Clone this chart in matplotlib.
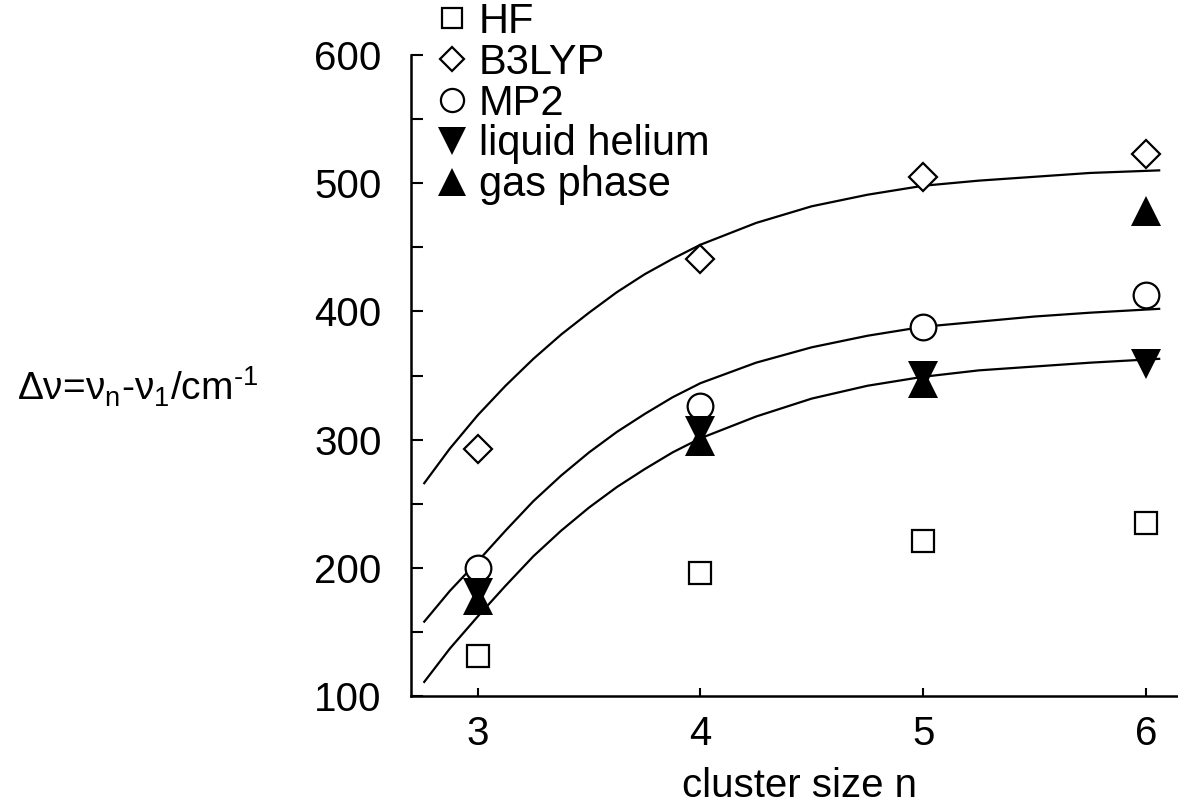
import matplotlib
matplotlib.use("Agg")
from matplotlib import pyplot as plt
from matplotlib.ticker import MultipleLocator

plt.rcParams['font.family'] = ['Liberation Sans', 'DejaVu Sans']
plt.rcParams['mathtext.fontset'] = 'custom'
plt.rcParams['mathtext.rm'] = 'Liberation Sans'

# data
n = [3, 4, 5, 6]
hf = [131, 196, 221, 235]
b3lyp = [293, 441, 505, 523]
mp2 = [200, 326, 388, 413]
liquid_he = [180, 307, 350, 359]
gas_phase = [175, 299, 344, 478]

# fitted curves
fit_x = [2.76, 2.875, 3.0, 3.125, 3.25, 3.375, 3.5, 3.625, 3.75, 3.875, 4.0,
         4.25, 4.5, 4.75, 5.0, 5.25, 5.5, 5.75, 6.06]
fit_b3lyp = [266, 293, 319, 342, 363, 382, 399, 415, 429, 441, 452,
             469, 482, 491, 498, 502, 505, 508, 510]
fit_mp2 = [158, 182, 205, 229, 252, 272, 290, 306, 320, 333, 344,
           360, 372, 381, 388, 392, 396, 399, 402]
fit_liquid = [111, 137, 162, 186, 209, 229, 247, 263, 277, 290, 301,
              318, 332, 342, 349, 354, 357, 360, 363]

fig = plt.figure(figsize=(11.78, 8.08), dpi=100)
ax1 = fig.add_axes([411/1178, 1-696/808, 1-411/1178, (696-55)/808])

lw = 1.6
ax1.plot(fit_x, fit_b3lyp, color='black', linewidth=lw)
ax1.plot(fit_x, fit_mp2, color='black', linewidth=lw)
ax1.plot(fit_x, fit_liquid, color='black', linewidth=lw)

ax1.plot(n, hf, linestyle='none', marker='s', markersize=16, markerfacecolor='white',
         markeredgecolor='black', markeredgewidth=1.6, label='HF')
ax1.plot(n, b3lyp, linestyle='none', marker='D', markersize=14, markerfacecolor='white',
         markeredgecolor='black', markeredgewidth=1.6, label='B3LYP')
ax1.plot(n, mp2, linestyle='none', marker='o', markersize=18.5, markerfacecolor='white',
         markeredgecolor='black', markeredgewidth=1.6, label='MP2')
ax1.plot(n, liquid_he, linestyle='none', marker='v', markersize=22, color='black',
         markeredgewidth=0, label='liquid helium')
ax1.plot(n, gas_phase, linestyle='none', marker='^', markersize=22, color='black',
         markeredgewidth=0, label='gas phase')

ax1.set_xlim(2.7005, 6.1446)
ax1.set_ylim(100, 600)
ax1.set_xticks(n)
ax1.yaxis.set_major_locator(MultipleLocator(100))
ax1.yaxis.set_minor_locator(MultipleLocator(50))
ax1.spines['top'].set_visible(False)
ax1.spines['right'].set_visible(False)
for s in ['left', 'bottom']:
    ax1.spines[s].set_linewidth(1.8)
ax1.tick_params(axis='y', which='both', direction='in', length=8.5, width=1.5,
                labelsize=29, pad=21)
ax1.tick_params(axis='x', which='major', direction='in', length=6, width=1.5,
                labelsize=29, pad=14)

leg = ax1.legend(loc='upper left', bbox_to_anchor=(439/1178, 1-2/808),
                 bbox_transform=fig.transFigure, frameon=False, fontsize=30,
                 borderpad=0, borderaxespad=0, handlelength=0.6, handletextpad=0.35,
                 labelspacing=0.02, numpoints=1)
for h in leg.legend_handles:
    h.set_markersize(h.get_markersize() * 0.9)

fig.text(17/1178, 1-401/808,
         r'Δν=ν$_\mathregular{n}$-ν$_\mathregular{1}$/cm$^\mathregular{\text{-1}}$',
         fontsize=28, ha='left', va='baseline')
fig.text(799/1178, 1-797/808, 'cluster size n', fontsize=29, ha='center', va='baseline')

fig.savefig("out.png", dpi=100)
